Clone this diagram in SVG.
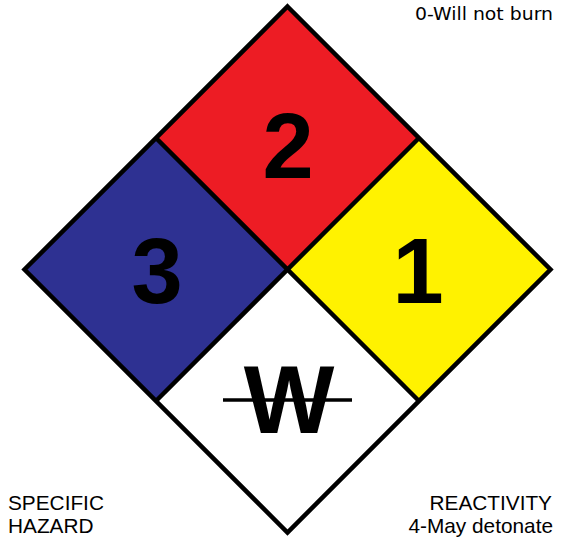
<svg xmlns="http://www.w3.org/2000/svg" width="561" height="537" viewBox="0 0 561 537">
<style>
.q{stroke:none}
.num{font-family:"Liberation Sans",Arial,sans-serif;font-weight:bold;font-size:92px;text-anchor:middle;fill:#000}
.lbl{font-family:"Liberation Sans",Arial,sans-serif;font-size:20.8px;fill:#000}
.edge{fill:none;stroke:#000;stroke-width:4.5;stroke-linejoin:miter}
</style>
<rect width="561" height="537" fill="#fff"/>
<g id="health">
<polygon class="q" fill="#2E3192" points="24.5,269.5 156,138 287.5,269.5 156,401"/>
<text class="num" x="157" y="303">3</text>
</g>
<g id="flammability">
<polygon class="q" fill="#ED1C24" points="287.5,6.5 419,138 287.5,269.5 156,138"/>
<text class="num" x="288" y="178">2</text>
</g>
<g id="instability">
<polygon class="q" fill="#FFF200" points="550.5,269.5 419,138 287.5,269.5 419,401"/>
<text class="num" x="418" y="303">1</text>
</g>
<g id="special">
<polygon class="q" fill="#FFFFFF" points="287.5,532.5 419,401 287.5,269.5 156,401"/>
<text class="num" x="289" y="433" style="font-size:96px">W</text>
<line x1="223" y1="400" x2="352" y2="400" stroke="#000" stroke-width="3.5"/>
</g>
<g id="connectors">
<line class="edge" x1="156" y1="138" x2="419" y2="401"/>
<line class="edge" x1="419" y1="138" x2="156" y2="401"/>
<polygon class="edge" points="287.5,6.5 550.5,269.5 287.5,532.5 24.5,269.5"/>
</g>
<g id="labels">
<text x="553" y="20" style="font-family:'DejaVu Sans',Verdana,sans-serif;font-size:17.5px;text-anchor:end" textLength="138" lengthAdjust="spacingAndGlyphs">0-Will not burn</text>
<text class="lbl" x="8" y="510">SPECIFIC</text>
<text class="lbl" x="8" y="533">HAZARD</text>
<text class="lbl" x="552" y="510" style="text-anchor:end">REACTIVITY</text>
<text class="lbl" x="553" y="533" style="text-anchor:end">4-May detonate</text>
</g>
</svg>
